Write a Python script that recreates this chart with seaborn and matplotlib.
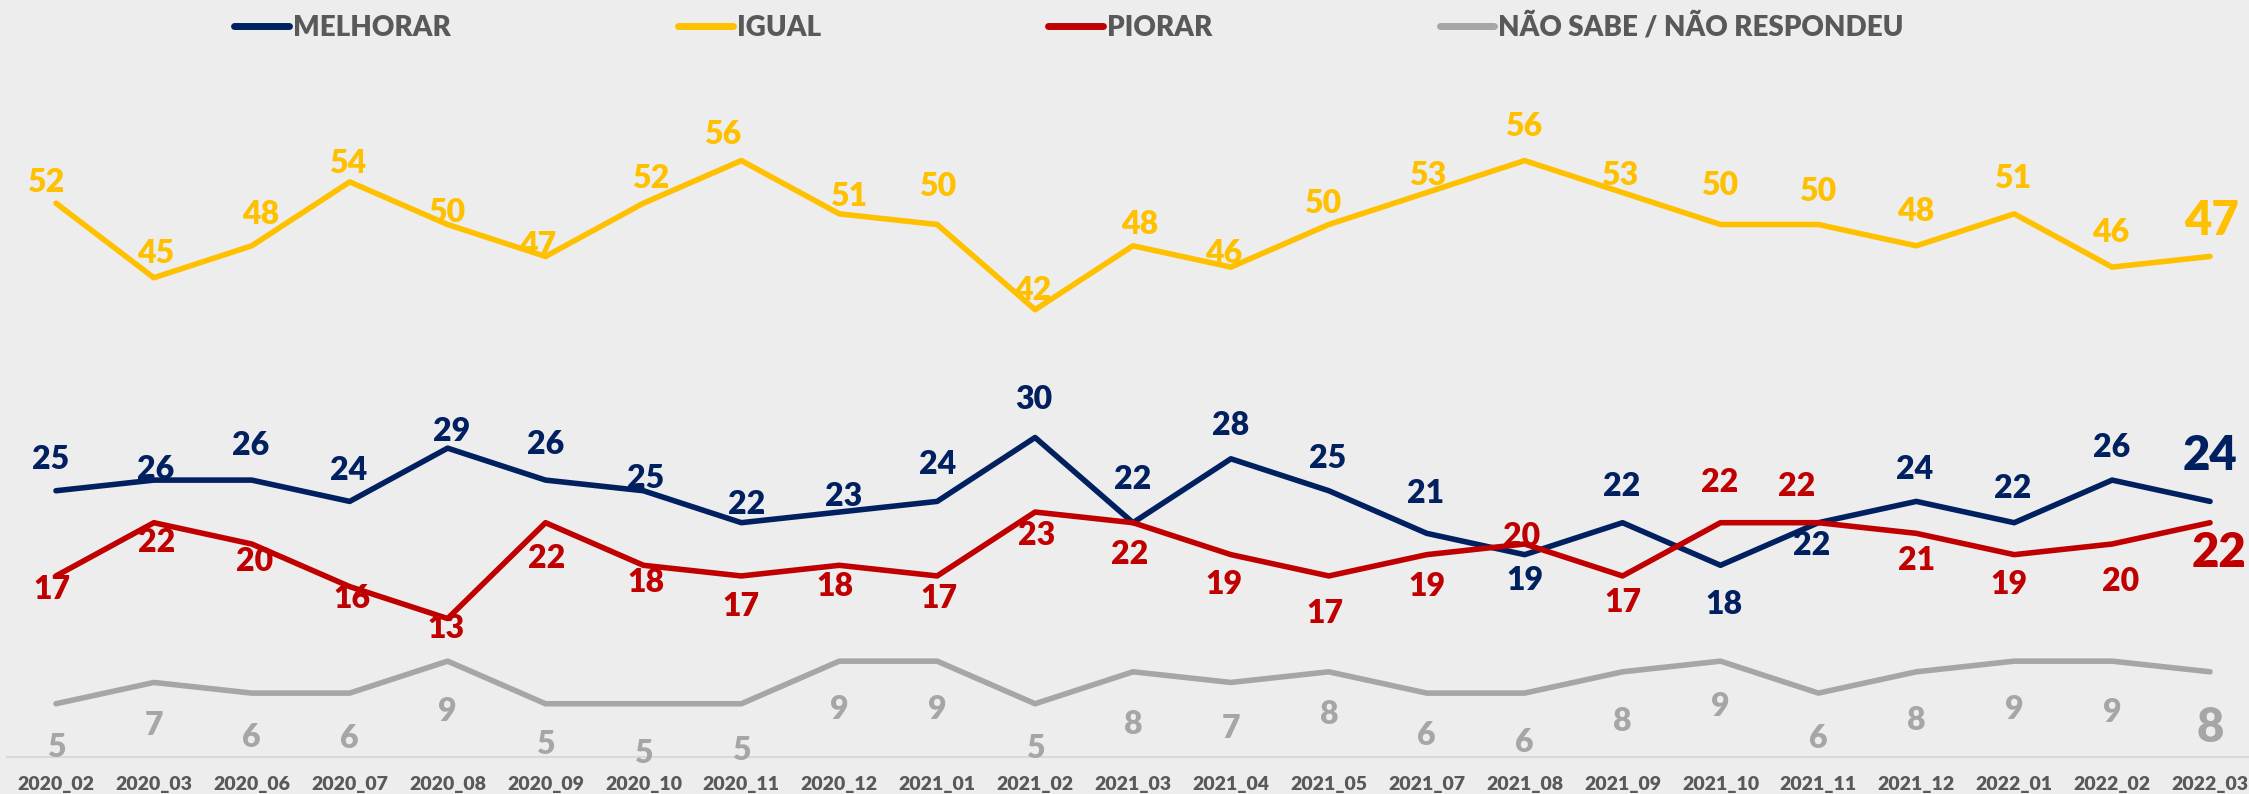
import matplotlib
matplotlib.use("Agg")

import matplotlib.pyplot as plt
import numpy as np
import pandas as pd
import seaborn as sns
from matplotlib.lines import Line2D


CATEGORIES = [
    "2020_02", "2020_03", "2020_06", "2020_07", "2020_08", "2020_09",
    "2020_10", "2020_11", "2020_12", "2021_01", "2021_02", "2021_03",
    "2021_04", "2021_05", "2021_07", "2021_08", "2021_09", "2021_10",
    "2021_11", "2021_12", "2022_01", "2022_02", "2022_03",
]
MELHORAR = [25, 26, 26, 24, 29, 26, 25, 22, 23, 24, 30, 22, 28, 25, 21, 19, 22, 18, 22, 24, 22, 26, 24]
IGUAL = [52, 45, 48, 54, 50, 47, 52, 56, 51, 50, 42, 48, 46, 50, 53, 56, 53, 50, 50, 48, 51, 46, 47]
PIORAR = [17, 22, 20, 16, 13, 22, 18, 17, 18, 17, 23, 22, 19, 17, 19, 20, 17, 22, 22, 21, 19, 20, 22]
NS_NR = [5, 7, 6, 6, 9, 5, 5, 5, 9, 9, 5, 8, 7, 8, 6, 6, 8, 9, 6, 8, 9, 9, 8]

SERIES_NAMES = ["MELHORAR", "IGUAL", "PIORAR", "NÃO SABE / NÃO RESPONDEU"]
SERIES_VALUES = [MELHORAR, IGUAL, PIORAR, NS_NR]

NAVY = "#002060"
GOLD = "#FFC000"
RED = "#C00000"
GREY = "#A6A6A6"
PALETTE = [NAVY, GOLD, RED, GREY]
BG = "#EDEDED"
TEXT_GREY = "#595959"
AXIS_GREY = "#D9D9D9"

DPI = 100
W_PX, H_PX = 2249, 794
PX_PER_UNIT = 10.65

# label placement: digit centre relative to its point, in pixels (+ = down)
MEL_DX = [-5, 2, -1, -1, 4, 0, 2, 5, 4, 0, -1, 0, 0, -1, -1, 0, -1, 4, -7, -2, -2, -1, 0]
MEL_DY = [-33, -13, -37, -33, -19, -38, -14, -20, -17, -39, -40, -45, -35, -34, -42, 24, -38, 37, 21, -34, -36, -35, -48]
IGU_DX = [-10, 2, 9, -2, -1, -8, 7, -19, 9, 0, -2, 7, -7, -6, 1, -1, -3, -1, -1, -1, -2, -1, 2]
IGU_DY = [-23, -26, -33, -20, -14, -13, -27, -28, -19, -40, -21, -23, -16, -23, -19, -36, -19, -41, -35, -36, -37, -37, -38]
PIO_DX = [-4, 3, 3, 2, -2, 1, 3, 0, -4, 2, 2, -3, -7, -4, 0, -3, 0, -1, -22, 0, -5, 8, 9]
PIO_DY = [12, 18, 16, 10, 8, 34, 15, 29, 19, 21, 22, 30, 28, 36, 30, -9, 25, -42, -38, 25, 28, 36, 27]
NS_DX = [0] * 23
NS_DY = [42, 41, 42, 43, 48, 39, 48, 45, 46, 46, 43, 51, 44, 41, 40, 47, 48, 43, 43, 47, 46, 49, 53]
LABEL_DX = [MEL_DX, IGU_DX, PIO_DX, NS_DX]
LABEL_DY = [MEL_DY, IGU_DY, PIO_DY, NS_DY]

LABEL_SIZE = 23
LAST_LABEL_SIZE = 34
WEIGHT = "heavy"


def set_style() -> None:
    sns.set_theme(style="white")
    plt.rcParams["font.family"] = ["Lato", "DejaVu Sans"]
    plt.rcParams["figure.facecolor"] = BG
    plt.rcParams["axes.facecolor"] = BG


def build_frame() -> pd.DataFrame:
    frames = []
    for name, values in zip(SERIES_NAMES, SERIES_VALUES):
        frames.append(pd.DataFrame({"Mes": CATEGORIES, "Serie": name, "Valor": values}))
    return pd.concat(frames, ignore_index=True)


def main() -> None:
    set_style()
    df = build_frame()

    fig = plt.figure(figsize=(W_PX / DPI, H_PX / DPI), dpi=DPI)
    ax = fig.add_axes([7 / W_PX, 37 / H_PX, 2252 / W_PX, 1 - 37 / H_PX])

    sns.lineplot(
        data=df,
        x="Mes",
        y="Valor",
        hue="Serie",
        hue_order=SERIES_NAMES,
        palette=PALETTE,
        linewidth=4.0,
        sort=False,
        legend=False,
        solid_capstyle="round",
        solid_joinstyle="round",
        ax=ax,
    )

    ax.set_xlim(-0.5, len(CATEGORIES) - 0.5)
    ax.set_ylim(0, 757 / PX_PER_UNIT)
    ax.set_xlabel("")
    ax.set_ylabel("")
    ax.set_yticks([])
    for side in ["left", "top", "right"]:
        ax.spines[side].set_visible(False)
    ax.spines["bottom"].set_color(AXIS_GREY)
    ax.spines["bottom"].set_linewidth(1.5)

    ax.set_xticks(range(len(CATEGORIES)))
    ax.set_xticklabels(CATEGORIES, fontsize=14, fontweight=WEIGHT, color=TEXT_GREY)
    ax.set_xticks(np.arange(-0.5, len(CATEGORIES), 1.0), minor=True)
    ax.tick_params(axis="x", which="major", length=0, pad=14)
    ax.tick_params(axis="x", which="minor", length=5, width=1.1, color=AXIS_GREY, direction="out")

    # data labels
    last = len(CATEGORIES) - 1
    for values, color, dxs, dys in zip(SERIES_VALUES, PALETTE, LABEL_DX, LABEL_DY):
        for i, v in enumerate(values):
            size = LAST_LABEL_SIZE if i == last else LABEL_SIZE
            digit_h = 0.7165 * size * DPI / 72
            ax.annotate(
                str(v),
                xy=(i, v),
                xytext=(dxs[i], -(dys[i] + digit_h / 2)),
                textcoords="offset pixels",
                ha="center",
                va="baseline",
                fontsize=size,
                fontweight=WEIGHT,
                color=color,
                annotation_clip=False,
            )

    handles = [Line2D([0], [0], color=c, lw=5, solid_capstyle="round") for c in PALETTE]
    fig.legend(
        handles,
        SERIES_NAMES,
        loc="center",
        bbox_to_anchor=(1069 / W_PX, 1 - 27 / H_PX),
        ncol=4,
        frameon=False,
        handlelength=1.96,
        handletextpad=0.14,
        columnspacing=8.2,
        prop={"weight": WEIGHT, "size": 20},
        labelcolor=TEXT_GREY,
    )

    fig.savefig("out.png", dpi=DPI, facecolor=BG)
    plt.close(fig)


if __name__ == "__main__":
    main()
